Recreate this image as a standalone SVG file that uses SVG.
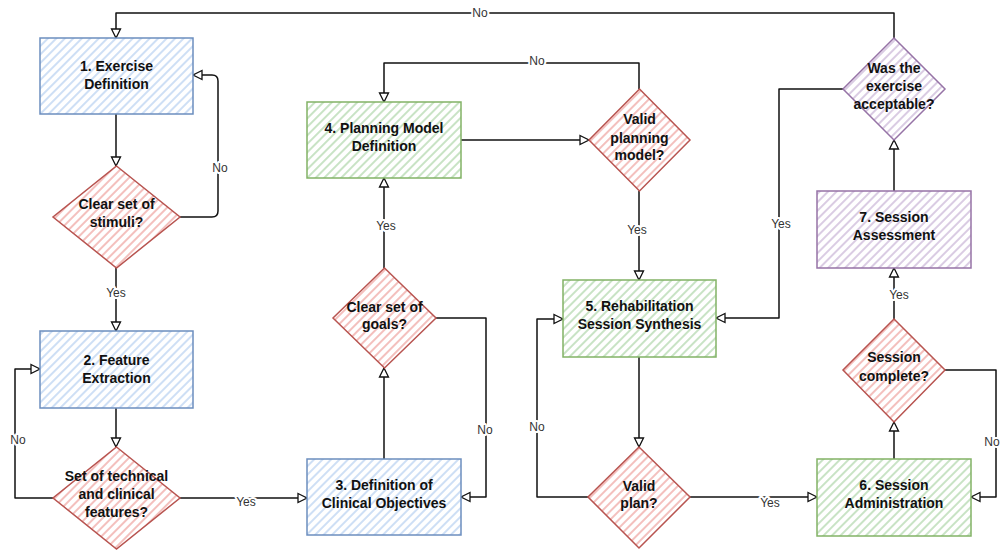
<svg xmlns="http://www.w3.org/2000/svg" width="1001" height="550" viewBox="0 0 1001 550">
<defs>
<pattern id="hBlue" patternUnits="userSpaceOnUse" width="6" height="6" patternTransform="rotate(45)"><rect width="6" height="6" fill="#fff"/><line x1="1" y1="0" x2="1" y2="6" stroke="#c6daf4" stroke-width="1.7"/></pattern>
<pattern id="hGreen" patternUnits="userSpaceOnUse" width="6" height="6" patternTransform="rotate(45)"><rect width="6" height="6" fill="#fff"/><line x1="1" y1="0" x2="1" y2="6" stroke="#bfdebb" stroke-width="1.7"/></pattern>
<pattern id="hRed" patternUnits="userSpaceOnUse" width="6" height="6" patternTransform="rotate(45)"><rect width="6" height="6" fill="#fff"/><line x1="1" y1="0" x2="1" y2="6" stroke="#f2b5b2" stroke-width="1.7"/></pattern>
<pattern id="hPurple" patternUnits="userSpaceOnUse" width="6" height="6" patternTransform="rotate(45)"><rect width="6" height="6" fill="#fff"/><line x1="1" y1="0" x2="1" y2="6" stroke="#d4c3de" stroke-width="1.7"/></pattern>
<marker id="arr" markerUnits="userSpaceOnUse" markerWidth="12" markerHeight="12" refX="9" refY="4.5" orient="auto" overflow="visible"><path d="M0,0 L9,4.5 L0,9 Z" fill="#fff" stroke="#111" stroke-width="1.3"/></marker>
</defs>
<style>
.blue{fill:url(#hBlue);stroke:#6c8ebf;stroke-width:1.5}
.green{fill:url(#hGreen);stroke:#82b366;stroke-width:1.5}
.red{fill:url(#hRed);stroke:#b85450;stroke-width:1.5}
.purple{fill:url(#hPurple);stroke:#9673a6;stroke-width:1.5}
.t{font-family:"Liberation Sans",Arial,sans-serif;font-weight:bold;font-size:14px;fill:#111;text-anchor:middle}
.c{fill:none;stroke:#111;stroke-width:1.5;stroke-linejoin:round;marker-end:url(#arr)}
.l{font-family:"Liberation Sans",Arial,sans-serif;font-size:12px;fill:#333;text-anchor:middle;stroke:#fff;stroke-width:4;paint-order:stroke;stroke-linejoin:round}
</style>
<rect width="1001" height="550" fill="#fff"/>
<g id="connectors">
<path class="c" d="M894,38 V13 H116 V38"/>
<path class="c" d="M116,114 V166"/>
<path class="c" d="M180,217 H212 Q218,217 218,211 V81 Q218,75 212,75 H193"/>
<path class="c" d="M116,268 V331"/>
<path class="c" d="M116,408 V447"/>
<path class="c" d="M53,498 H15 V369 H40"/>
<path class="c" d="M180,498 H307"/>
<path class="c" d="M384,459 V368"/>
<path class="c" d="M436,318 H486 V497 H461"/>
<path class="c" d="M384,268 V178"/>
<path class="c" d="M461,140 H589"/>
<path class="c" d="M639,89 V63 H384 V102"/>
<path class="c" d="M639,191 V280"/>
<path class="c" d="M639,357 V447"/>
<path class="c" d="M588,497 H537 V319 H563"/>
<path class="c" d="M690,497 H817"/>
<path class="c" d="M894,459 V422"/>
<path class="c" d="M945,370 H996 V497 H971"/>
<path class="c" d="M894,319 V268"/>
<path class="c" d="M894,191 V140"/>
<path class="c" d="M843,89 H779 V318 H716"/>
<text class="l" x="480" y="17">No</text>
<text class="l" x="220" y="172">No</text>
<text class="l" x="116" y="297">Yes</text>
<text class="l" x="18" y="444">No</text>
<text class="l" x="246" y="506">Yes</text>
<text class="l" x="485" y="434">No</text>
<text class="l" x="386" y="230">Yes</text>
<text class="l" x="537" y="65">No</text>
<text class="l" x="637" y="234">Yes</text>
<text class="l" x="537" y="431">No</text>
<text class="l" x="770" y="507">Yes</text>
<text class="l" x="992" y="446">No</text>
<text class="l" x="899" y="299">Yes</text>
<text class="l" x="781" y="228">Yes</text>
</g>
<g id="n1"><rect class="blue" x="40" y="38" width="153" height="76"/><text class="t" x="116.5" y="71">1. Exercise</text><text class="t" x="116.5" y="89">Definition</text></g>
<g id="d1"><polygon class="red" points="116.5,166 180,217 116.5,268 53,217"/><text class="t" x="116.5" y="209">Clear set of</text><text class="t" x="116.5" y="227">stimuli?</text></g>
<g id="n2"><rect class="blue" x="40" y="331" width="153" height="77"/><text class="t" x="116.5" y="365">2. Feature</text><text class="t" x="116.5" y="383">Extraction</text></g>
<g id="d2"><polygon class="red" points="116.5,447 180,498 116.5,549 53,498"/><text class="t" x="116.5" y="481">Set of technical</text><text class="t" x="116.5" y="499">and clinical</text><text class="t" x="116.5" y="517">features?</text></g>
<g id="n3"><rect class="blue" x="307" y="459" width="154" height="76"/><text class="t" x="384" y="490">3. Definition of</text><text class="t" x="384" y="508">Clinical Objectives</text></g>
<g id="d3"><polygon class="red" points="384.5,268 436,318 384.5,368 333,318"/><text class="t" x="384.5" y="312">Clear set of</text><text class="t" x="384.5" y="329">goals?</text></g>
<g id="n4"><rect class="green" x="307" y="102" width="154" height="76"/><text class="t" x="384" y="133">4. Planning Model</text><text class="t" x="384" y="151">Definition</text></g>
<g id="d4"><polygon class="red" points="639.5,89 690,140 639.5,191 589,140"/><text class="t" x="639.5" y="124">Valid</text><text class="t" x="639.5" y="143">planning</text><text class="t" x="639.5" y="160">model?</text></g>
<g id="n5"><rect class="green" x="563" y="280" width="153" height="77"/><text class="t" x="639.5" y="311">5. Rehabilitation</text><text class="t" x="639.5" y="329">Session Synthesis</text></g>
<g id="d5"><polygon class="red" points="639,447 690,497 639,548 588,497"/><text class="t" x="639" y="491">Valid</text><text class="t" x="639" y="508">plan?</text></g>
<g id="n6"><rect class="green" x="817" y="459" width="154" height="77"/><text class="t" x="894" y="490">6. Session</text><text class="t" x="894" y="508">Administration</text></g>
<g id="d6"><polygon class="red" points="894,319 945,370 894,422 843,370"/><text class="t" x="894" y="362">Session</text><text class="t" x="894" y="381">complete?</text></g>
<g id="n7"><rect class="purple" x="817" y="191" width="154" height="77"/><text class="t" x="894" y="222">7. Session</text><text class="t" x="894" y="240">Assessment</text></g>
<g id="d7"><polygon class="purple" points="894,38 945,89 894,140 843,89"/><text class="t" x="894" y="73">Was the</text><text class="t" x="894" y="91">exercise</text><text class="t" x="894" y="109">acceptable?</text></g>
</svg>
